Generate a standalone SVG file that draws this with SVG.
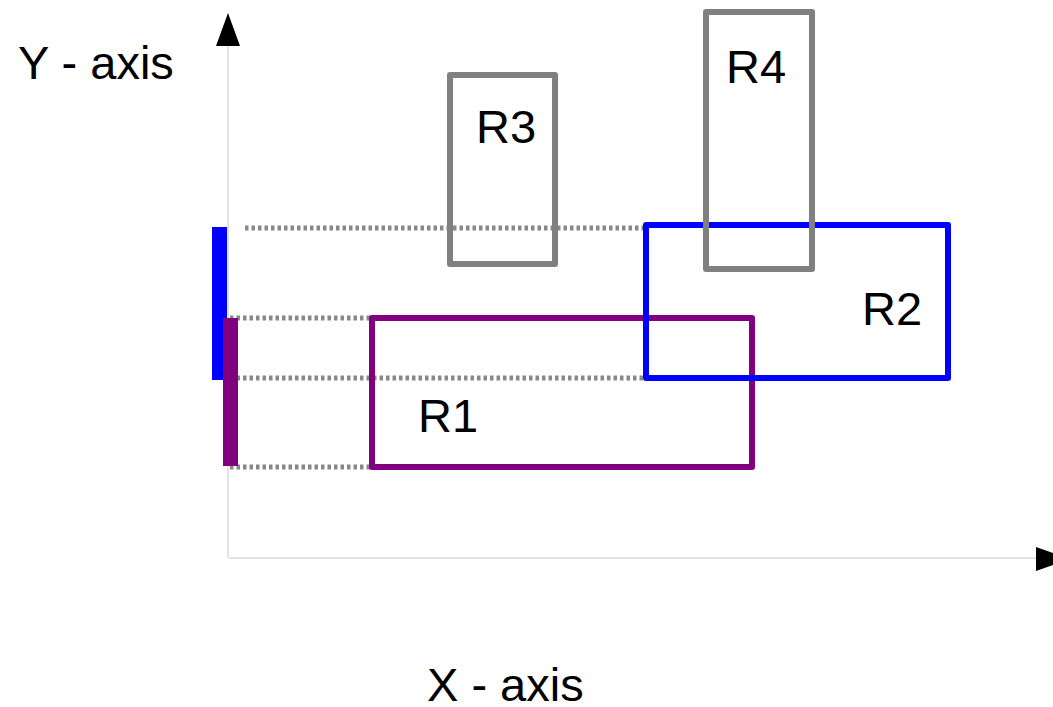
<svg xmlns="http://www.w3.org/2000/svg" width="1053" height="707" viewBox="0 0 1053 707">
<defs>
<style>
.lbl{font-family:"Liberation Sans",Arial,sans-serif;font-size:47px;fill:#000}
.axis{stroke:#e3e3e3;stroke-width:2;fill:none}
.dot{stroke:#888;stroke-width:5;stroke-dasharray:3.5 3;fill:none}
.r{fill:none;stroke-width:6;stroke-linejoin:round}
.gray{stroke:#808080}
.blue{stroke:#0000ff}
.purple{stroke:#800080}
</style>
</defs>
<rect width="1053" height="707" fill="#fff"/>
<g id="axes">
<line class="axis" x1="228" y1="46" x2="228" y2="557"/>
<line class="axis" x1="228" y1="558" x2="1036" y2="558"/>
<polygon points="228,13 216,46 240,46" fill="#000"/>
<polygon points="1036,547 1036,571 1070,559" fill="#000"/>
<text class="lbl" x="18" y="79">Y - axis</text>
<text class="lbl" x="427" y="701">X - axis</text>
</g>
<g id="connectors">
<line class="dot" x1="245" y1="228" x2="645" y2="228"/>
<line class="dot" x1="230" y1="318" x2="372" y2="318"/>
<line class="dot" x1="230" y1="378" x2="645" y2="378"/>
<line class="dot" x1="230" y1="467" x2="372" y2="467"/>
</g>
<g id="projections">
<rect x="212" y="227" width="15" height="153" fill="#0000ff"/>
<rect x="223" y="318" width="15" height="148" fill="#800080"/>
</g>
<g id="R3">
<rect class="r gray" x="450" y="75" width="105" height="189"/>
<text class="lbl" x="476" y="143">R3</text>
</g>
<g id="R1">
<rect class="r purple" x="372" y="318" width="380" height="149"/>
<text class="lbl" x="418" y="432">R1</text>
</g>
<g id="R2">
<rect class="r blue" x="646" y="225" width="302" height="153"/>
<text class="lbl" x="862" y="325">R2</text>
</g>
<g id="R4">
<rect class="r gray" x="706" y="12" width="106" height="257"/>
<text class="lbl" x="726" y="83">R4</text>
</g>
</svg>
